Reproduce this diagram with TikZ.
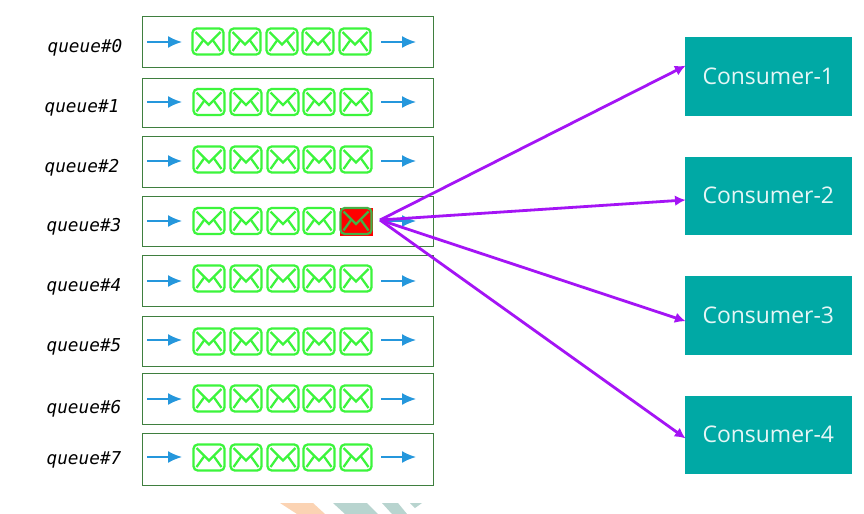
\documentclass[tikz,border=0pt]{standalone}
\usepackage{fontspec}
\setmainfont{Open Sans}
\newfontfamily\qfont{DejaVu Sans Mono}
\usetikzlibrary{arrows.meta}
\definecolor{qgreen}{HTML}{3F7F3F}
\definecolor{mailgreen}{HTML}{3CF53C}
\definecolor{maildark}{HTML}{45B045}
\definecolor{flowblue}{HTML}{2597DC}
\definecolor{teal}{HTML}{00A9A5}
\definecolor{link}{HTML}{A414F5}
\definecolor{peach}{HTML}{FBD3B3}
\definecolor{stripeteal}{HTML}{B8D4CF}
\tikzset{
  x=0.75pt,y=-0.75pt,
  qbox/.style={draw=qgreen,line width=1pt,fill=white,inner sep=0pt,anchor=north west},
  qlabel/.style={font=\qfont\itshape\fontsize{13.3}{14}\selectfont,text=black,inner sep=0pt},
  flow/.style={draw=flowblue,line width=1.3pt,-{Latex[length=10.5pt,width=9pt]}},
  consumer/.style={fill=teal,text=white!90!teal,inner sep=0pt,anchor=north west,font=\fontsize{17.2}{20}\selectfont},
  link arrow/.style={draw=link,line width=2.1pt,-{Latex[length=8pt,width=8pt]},shorten >=-0.5pt},
  mailframe/.style={line width=1.7pt,rounded corners=3.2pt},
  mailflap/.style={line width=1.7pt},
}
\newcommand{\mailicon}[3]{%
  \draw[mailframe,draw=#3] (#1-15.5,#2-13) rectangle (#1+15.5,#2+13);
  \draw[mailflap,draw=#3] (#1-12.5,#2-9.5) -- (#1,#2+3) -- (#1+12.5,#2-9.5);
  \draw[mailflap,draw=#3] (#1-12.5,#2+9.5) -- (#1-5,#2-1);
  \draw[mailflap,draw=#3] (#1+12.5,#2+9.5) -- (#1+5,#2-1);
}
\begin{document}
\begin{tikzpicture}
\useasboundingbox (0,0) rectangle (864,514);
\fill[white] (0,0) rectangle (864,514);
% watermark fragments
\fill[peach] (280,503) -- (313,503) -- (325,514) -- (297,514) -- cycle;
\fill[stripeteal] (333,503) -- (367,503) -- (378,514) -- (345,514) -- cycle;
\fill[stripeteal] (382,503) -- (398,503) -- (407,514) -- (392,514) -- cycle;
\fill[stripeteal] (410,503) -- (422,503) -- (415,508) -- cycle;
% queues: index / box top / box height / envelope y / arrow y / label x / label y / envelope x
\foreach \i/\top/\hgt/\my/\ay/\lx/\ly/\mx in {
  0/16/51/41.5/42/85/48/208,
  1/78/49/102/102/82/108/209,
  2/136/51/159.5/161/82/168/209,
  3/196/50/221/221/84/227/209,
  4/255/51/278.5/281/84/287/209,
  5/316/50/341.5/340/84/347/209,
  6/373/51/398.5/399/84/409/209,
  7/433/52/457.5/457/84/460/209}{
  \node[qbox,minimum width=218.6pt,minimum height=0.75pt*\hgt] (q\i) at (141.5,\top) {};
  \node[qlabel] (ql\i) at (\lx,\ly) {queue\#\i};
  \coordinate (inA\i) at (147,\ay);
  \coordinate (inB\i) at (182,\ay);
  \coordinate (outA\i) at (381,\ay);
  \coordinate (outB\i) at (416,\ay);
  \draw[flow] (inA\i) -- (inB\i);
  \draw[flow] (outA\i) -- (outB\i);
  \pgfmathsetmacro{\ma}{\mx}
  \pgfmathsetmacro{\mb}{\mx+37}
  \pgfmathsetmacro{\mc}{\mx+74}
  \pgfmathsetmacro{\md}{\mx+110}
  \pgfmathsetmacro{\me}{\mx+147}
  \mailicon{\ma}{\my}{mailgreen}\mailicon{\mb}{\my}{mailgreen}\mailicon{\mc}{\my}{mailgreen}\mailicon{\md}{\my}{mailgreen}
  \ifnum\i=3
    \fill[red] (339.5,207.5) rectangle (372.5,235.5);
    \mailicon{\me}{\my}{maildark}
  \else
    \mailicon{\me}{\my}{mailgreen}
  \fi
}
% consumers
\foreach \n/\top/\hgt in {1/37/79,2/157/78,3/276/79,4/396/78}{
  \node[consumer,minimum width=125.25pt,minimum height=0.75pt*\hgt] (c\n) at (684.5,\top) {\raisebox{1.3pt}{Consumer-\n}};
}
\coordinate (hub) at (380,220);
\foreach \n/\yy in {1/66,2/200,3/321,4/438}{
  \coordinate (t\n) at (685,\yy);
  \draw[link arrow] (hub) -- (t\n);
}
\end{tikzpicture}
\end{document}
